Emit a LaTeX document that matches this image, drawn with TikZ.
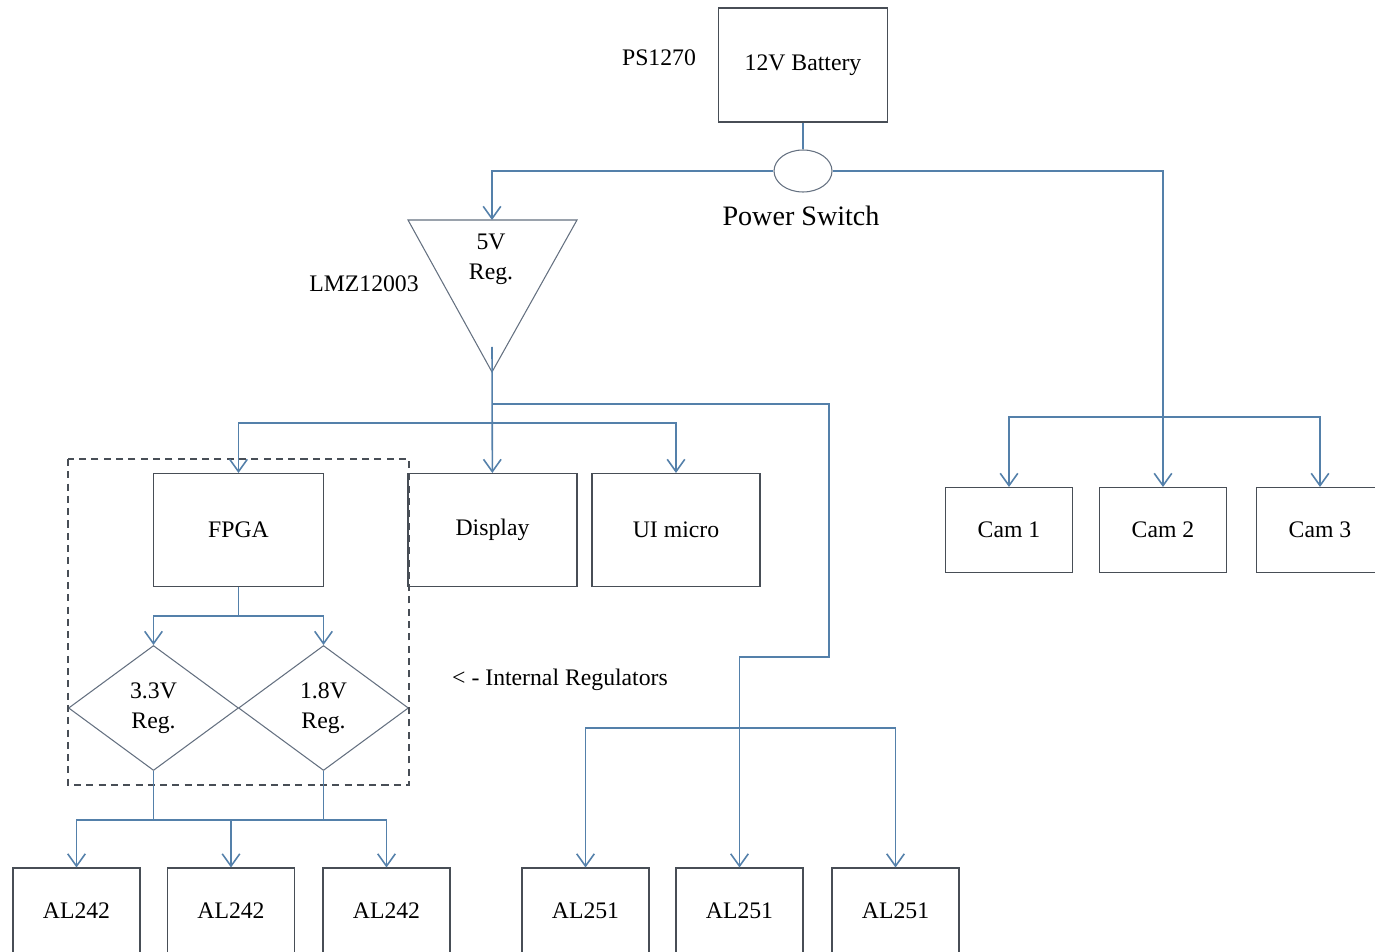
\documentclass[tikz,border=0pt]{standalone}
\usepackage{fontspec}
\setmainfont{Liberation Serif}
\usepackage{tikz}
\usetikzlibrary{shapes.geometric, positioning, arrows.meta, calc}
\definecolor{WireBlue}{RGB}{84,128,170}
\definecolor{EdgeGray}{RGB}{72,78,86}
\definecolor{ShapeGray}{RGB}{100,112,128}

\begin{document}
\begin{tikzpicture}[x=0.02cm, y=-0.02cm,
          blk/.style={rectangle, draw=EdgeGray, line width=0.6pt, minimum width=2.54cm,
                      minimum height=1.7cm, font=\fontsize{13.5}{17}\selectfont, align=center},
          reg/.style={diamond, draw=ShapeGray, line width=0.6pt, minimum width=3.4cm,
                      minimum height=2.5cm, inner sep=0pt, font=\fontsize{13.5}{17}\selectfont,
                      align=center},
          lbl/.style={font=\fontsize{13.5}{17}\selectfont, align=center},
          wire/.style={WireBlue, line width=0.9pt},
          arr/.style={wire, -{Straight Barb[length=7pt, width=10pt]}}
        ]
        \useasboundingbox (0,0) rectangle (1375,952);

        % Battery and switch
        \node[blk, minimum width=3.38cm, minimum height=2.28cm] (bat) at (803,65) {12V Battery};
        \node[lbl] (pslbl) at (659,58) {PS1270};
        \node[ellipse, draw=ShapeGray, line width=0.6pt, minimum width=1.16cm,
              minimum height=0.84cm] (sw) at (803,171) {};
        \node[font=\fontsize{16}{19}\selectfont] (swlbl) at (801,216) {Power Switch};

        % 5V regulator
        \draw[ShapeGray, line width=0.6pt] (408,220) -- (577,220) -- (492,372) -- cycle;
        \coordinate (reg5top) at (492,220);
        \coordinate (reg5in) at (492,347);
        \node[lbl] (reg5) at (491,259) {5V\\Reg.};
        \node[lbl] (lmzlbl) at (364,284) {LMZ12003};

        % Cameras
        \node[blk] (cam1) at (1009,530) {Cam 1};
        \node[blk] (cam2) at (1163,530) {Cam 2};
        \node[blk] (cam3) at (1320,530) {Cam 3};

        % Loads on 5V
        \node[blk, minimum width=3.4cm, minimum height=2.26cm] (fpga) at (238.5,530) {FPGA};
        \node[blk, minimum width=3.38cm, minimum height=2.26cm] (disp) at (492.5,530) {Display};
        \node[blk, minimum width=3.36cm, minimum height=2.26cm] (ui) at (676,530) {UI micro};

        % Internal regulators
        \node[reg] (d33) at (153.5,708) {3.3V\\Reg.};
        \node[reg] (d18) at (323.5,708) {1.8V\\Reg.};
        \draw[EdgeGray, dashed, dash pattern=on 4pt off 3pt, line width=0.6pt]
              ($(d33.west |- fpga.north)+(0,-14)$) rectangle ($(d18.east |- d33.south)+(0,14)$);
        \node[lbl] (intlbl) at (560,680) {< - Internal Regulators};

        % Sensors
        \foreach \x/\n in {76.5/a, 231/b, 386.5/c}
          \node[blk] (al242\n) at (\x,910.5) {AL242};
        \foreach \x/\n in {585.5/a, 739.5/b, 895.5/c}
          \node[blk] (al251\n) at (\x,910.5) {AL251};

        % Wiring
        \draw[wire] (bat) -- (sw);
        \draw[arr] (sw) -| (reg5top);
        \draw[arr] (sw) -| (cam2);
        \coordinate (camsplit) at (1163,417);
        \draw[arr] (camsplit) -| (cam1);
        \draw[arr] (camsplit) -| (cam3);

        \draw[arr] (reg5in) -- (disp);
        \coordinate (vsplit) at (492,423);
        \draw[arr] (vsplit) -| (fpga);
        \draw[arr] (vsplit) -| (ui);
        \coordinate (vtap) at (492,404);
        \coordinate (bendR) at (829,657);
        \draw[arr] (vtap) -| (bendR) -| (al251b);
        \coordinate (alsplit) at (739.5,728);
        \draw[arr] (alsplit) -| (al251a);
        \draw[arr] (alsplit) -| (al251c);

        \coordinate (fsplit) at (238.5,616);
        \draw[wire] (fpga) -- (fsplit);
        \draw[arr] (fsplit) -| (d33);
        \draw[arr] (fsplit) -| (d18);

        \coordinate (lsplit) at (153.5,820);
        \coordinate (rsplit) at (323.5,820);
        \draw[wire] (d33) -- (lsplit);
        \draw[wire] (d18) -- (rsplit);
        \draw[wire] (lsplit) -- (rsplit);
        \draw[arr] (lsplit) -| (al242a);
        \draw[arr] (lsplit) -| (al242b);
        \draw[arr] (rsplit) -| (al242c);
      \end{tikzpicture}
\end{document}
